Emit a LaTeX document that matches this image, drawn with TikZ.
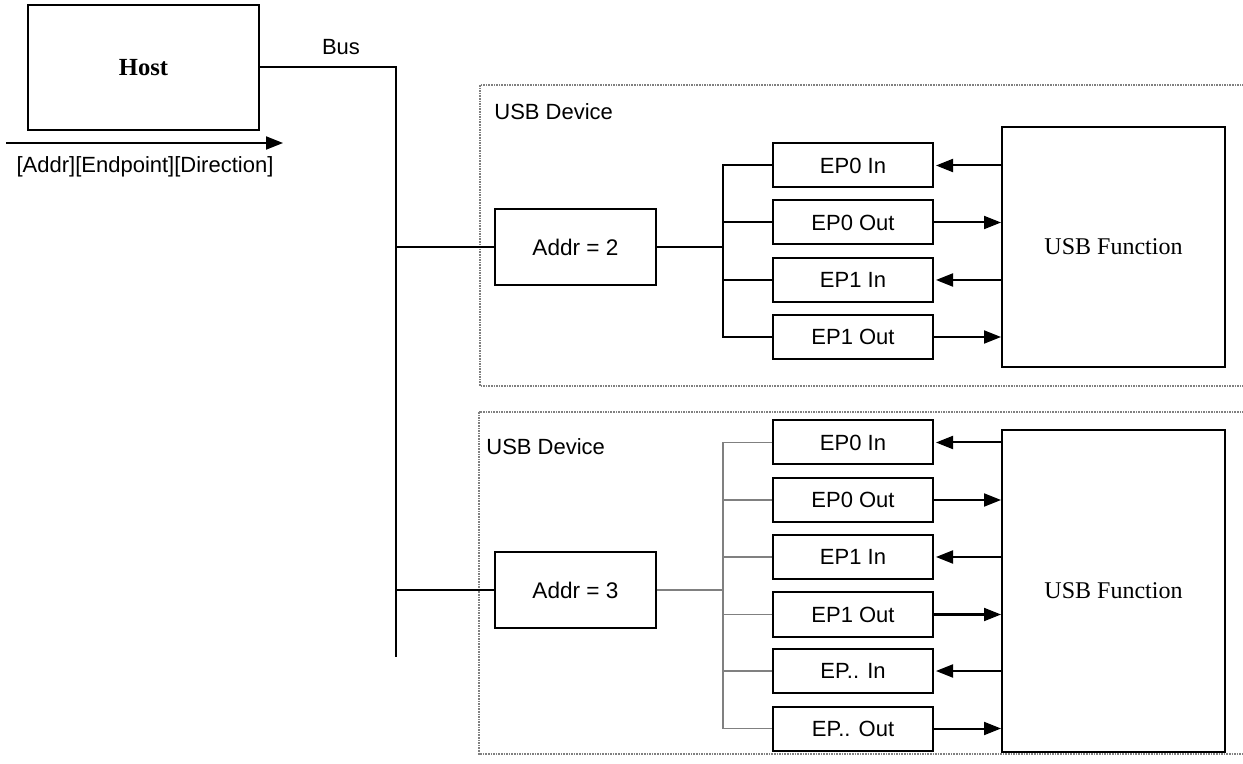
\documentclass[tikz,border=0pt]{standalone}
\usepackage{fontspec}
\setmainfont{Liberation Serif}
\newfontfamily\arialf{Liberation Sans}
\usetikzlibrary{arrows.meta}
\tikzset{
  ln/.style={line width=1pt, black},
  gln/.style={line width=0.8pt, gray},
  bx/.style={draw, line width=1pt, inner sep=0pt, font=\arialf\fontsize{11}{13}\selectfont},
  hostbox/.style={draw, line width=1pt, minimum width=115.5pt, minimum height=62.5pt, font=\bfseries\fontsize{12.3}{14}\selectfont},
  addrbox/.style={bx, minimum width=80.5pt, minimum height=38pt, font=\arialf\fontsize{11.3}{13}\selectfont},
  epbox/.style={bx, minimum width=80pt, minimum height=22pt},
  fnbox/.style={draw, line width=1pt, minimum width=111.5pt, font=\fontsize{12}{14}\selectfont},
  lbl/.style={inner sep=0pt, font=\arialf\fontsize{11}{13}\selectfont},
  devframe/.style={draw=gray, line width=0.6pt, dash pattern=on 0.8pt off 0.5pt},
  arr/.style={ln, -{Triangle[length=8.5pt, width=6.5pt]}},
}
\begin{document}
\begin{tikzpicture}[x=0.5pt, y=-0.5pt]
\useasboundingbox (0,0) rectangle (1243,764);

% device frames
\draw[devframe] (480,85) rectangle (1250,386);
\draw[devframe] (479,412) rectangle (1250,754);

% host
\node[hostbox] (host) at (143.5,67.5) {Host};
\node[lbl] (buslbl) at (341,47) {Bus};
\coordinate (a1) at (6,143);
\coordinate (a2) at (283,143);
\draw[arr] (a1) -- (a2);
\node[lbl] (addrlbl) at (145,167) {[Addr][Endpoint][Direction]};

% bus
\coordinate (bus) at (396,0);
\coordinate (busend) at (396,657);
\draw[ln] (host.east) -| (busend);

% device 1
\node[lbl, anchor=west] (dev1) at (494,112) {USB Device};
\node[addrbox] (addr2) at (575.5,247) {Addr = 2};
\node[epbox] (d1e0i) at (853,165.5) {EP0 In};
\node[epbox] (d1e0o) at (853,222.5) {EP0 Out};
\node[epbox] (d1e1i) at (853,280) {EP1 In};
\node[epbox] (d1e1o) at (853,337) {EP1 Out};
\node[fnbox, minimum height=120pt] (fn1) at (1113.5,247) {USB Function};
\coordinate (br1) at (723,0);
\draw[ln] (addr2.west) -- (addr2.west -| bus);
\draw[ln] (addr2.east) -- (addr2.east -| br1);
\draw[ln] (d1e0i.west) -| (d1e1o.west -| br1) -- (d1e1o.west);
\draw[ln] (d1e0o.west) -- (d1e0o.west -| br1);
\draw[ln] (d1e1i.west) -- (d1e1i.west -| br1);
\draw[arr, shorten >=1pt] (d1e0i.east -| fn1.west) -- (d1e0i.east);
\draw[arr] (d1e0o.east) -- (d1e0o.east -| fn1.west);
\draw[arr, shorten >=1pt] (d1e1i.east -| fn1.west) -- (d1e1i.east);
\draw[arr] (d1e1o.east) -- (d1e1o.east -| fn1.west);

% device 2
\node[lbl, anchor=west] (dev2) at (486,447) {USB Device};
\node[addrbox] (addr3) at (575.5,590) {Addr = 3};
\node[epbox] (d2e0i) at (853,442.5) {EP0 In};
\node[epbox] (d2e0o) at (853,500) {EP0 Out};
\node[epbox] (d2e1i) at (853,557) {EP1 In};
\node[epbox] (d2e1o) at (853,614.5) {EP1 Out};
\node[epbox] (d2exi) at (853,671) {EP.. In};
\node[epbox] (d2exo) at (853,728.5) {EP.. Out};
\node[fnbox, minimum height=161pt] (fn2) at (1113.5,591) {USB Function};
\draw[ln] (addr3.west) -- (addr3.west -| bus);
\draw[gln] (addr3.east) -- (addr3.east -| br1);
\draw[gln] (d2e0i.west) -| (d2exo.west -| br1) -- (d2exo.west);
\foreach \n in {d2e0o,d2e1i,d2e1o,d2exi} {
  \draw[gln] (\n.west) -- (\n.west -| br1);
}
\foreach \n in {d2e0i,d2e1i,d2exi} {
  \draw[arr, shorten >=1pt] (\n.east -| fn2.west) -- (\n.east);
}
\foreach \n in {d2e0o,d2e1o,d2exo} {
  \draw[arr] (\n.east) -- (\n.east -| fn2.west);
}
\end{tikzpicture}
\end{document}
